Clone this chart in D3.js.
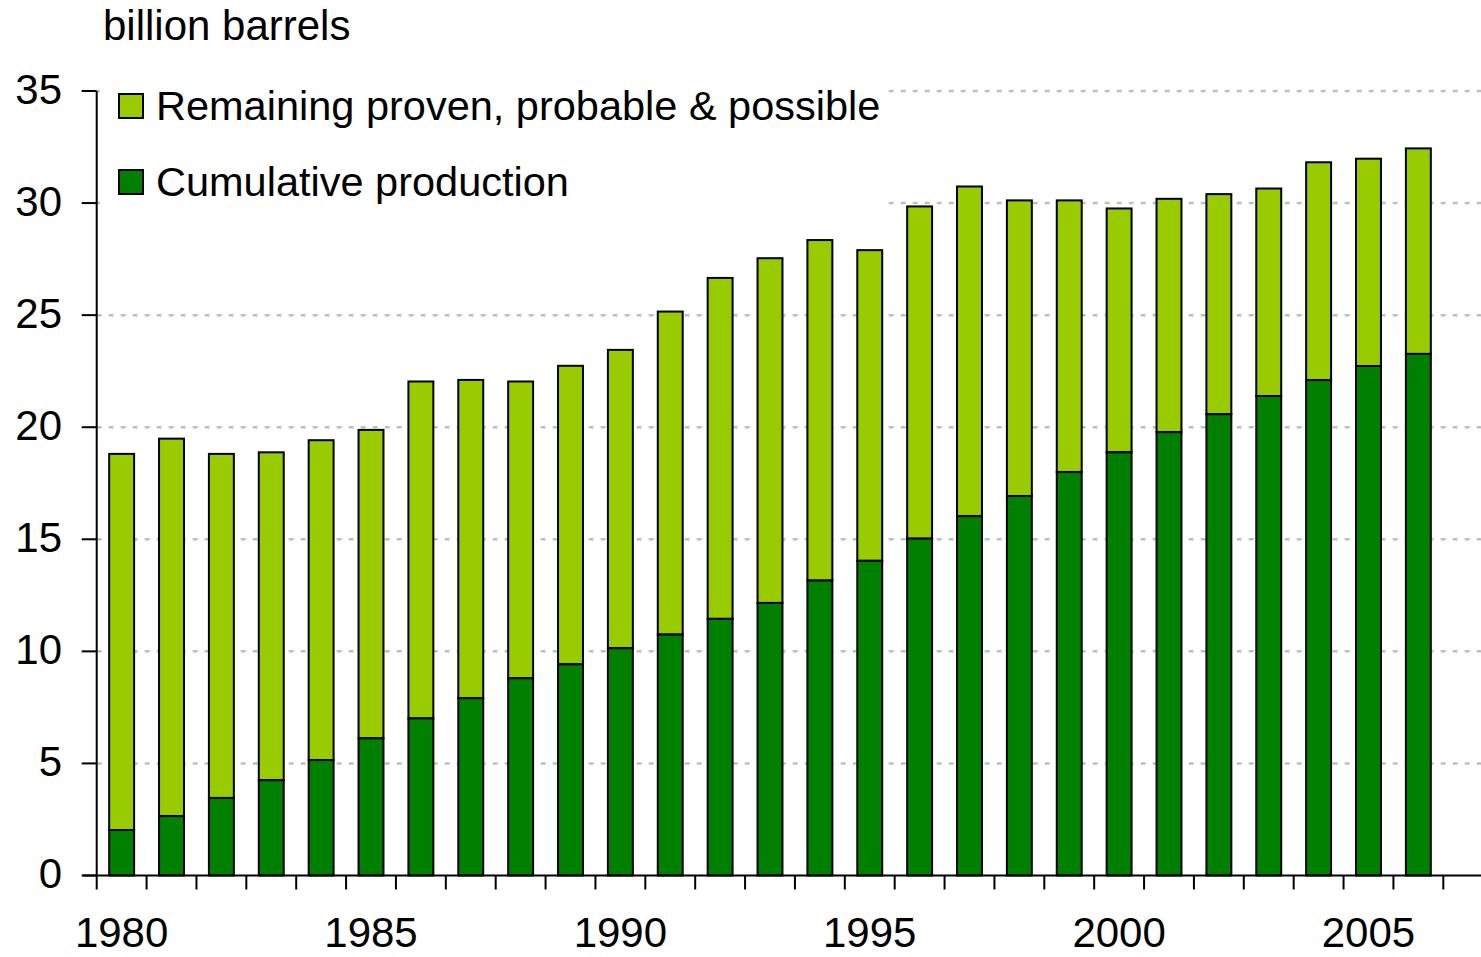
<!DOCTYPE html>
<html>
<head>
<meta charset="utf-8">
<script src="https://cdn.jsdelivr.net/npm/d3@7"></script>
<style>
  html, body { margin: 0; padding: 0; background: #fff; }
  svg { display: block; }
  text { font-family: "Liberation Sans", Arial, Helvetica, sans-serif; fill: #000; }
</style>
</head>
<body>
<svg id="chart" width="1481" height="957"></svg>
<script>
const years = [1980,1981,1982,1983,1984,1985,1986,1987,1988,1989,1990,1991,1992,1993,1994,1995,1996,1997,1998,1999,2000,2001,2002,2003,2004,2005,2006];
const cumulative = [2.03,2.65,3.46,4.25,5.15,6.12,7.01,7.91,8.80,9.42,10.14,10.75,11.45,12.16,13.16,14.04,15.03,16.03,16.93,18.0,18.88,19.78,20.58,21.39,22.10,22.73,23.27];
const total = [18.81,19.49,18.81,18.88,19.42,19.88,22.04,22.11,22.04,22.74,23.45,25.16,26.66,27.54,28.35,27.90,29.85,30.74,30.12,30.12,29.76,30.19,30.40,30.65,31.82,31.98,32.44];
const yTicks = [0,5,10,15,20,25,30,35];
const xLabels = [1980,1985,1990,1995,2000,2005];
const seriesNames = ["Remaining proven, probable & possible", "Cumulative production"];
const seriesColors = ["#99CC00", "#008000"];
const unitLabel = "billion barrels";

(function () {
const svg = d3.select("#chart");
const W = 1481;
const pLeft = 96.7, pRight = 1443.3, pTop = 91, pBottom = 875.5;
const fs = 42, fsLeg = 41.5;

const x = d3.scaleBand().domain(years).range([pLeft, pRight]).paddingInner(0.5).paddingOuter(0.25);
const y = d3.scaleLinear().domain([0, 35]).range([pBottom, pTop]);
const step = x.step();

// gridlines
svg.append("g").selectAll("line").data(yTicks.filter(v => v > 0)).join("line")
  .attr("x1", pLeft).attr("x2", W)
  .attr("y1", d => y(d)).attr("y2", d => y(d))
  .attr("stroke", "#c0c0c0").attr("stroke-width", 2.5)
  .attr("stroke-dasharray", "5,7");

// legend background
svg.append("rect").attr("x", 100).attr("y", 80).attr("width", 788).attr("height", 135).attr("fill", "#fff");

// bars
const bars = svg.append("g");
years.forEach((yr, i) => {
  bars.append("rect")
    .attr("x", x(yr)).attr("width", x.bandwidth())
    .attr("y", y(total[i])).attr("height", y(cumulative[i]) - y(total[i]))
    .attr("fill", seriesColors[0]).attr("stroke", "#000").attr("stroke-width", 2);
  bars.append("rect")
    .attr("x", x(yr)).attr("width", x.bandwidth())
    .attr("y", y(cumulative[i])).attr("height", y(0) - y(cumulative[i]))
    .attr("fill", seriesColors[1]).attr("stroke", "#000").attr("stroke-width", 2);
});

// y axis
svg.append("line").attr("x1", pLeft).attr("x2", pLeft).attr("y1", pTop).attr("y2", pBottom)
  .attr("stroke", "#000").attr("stroke-width", 2);
svg.append("g").selectAll("line").data(yTicks).join("line")
  .attr("x1", pLeft - 15).attr("x2", pLeft)
  .attr("y1", d => y(d)).attr("y2", d => y(d))
  .attr("stroke", "#000").attr("stroke-width", 2);
svg.append("g").selectAll("text").data(yTicks).join("text")
  .attr("x", 62).attr("y", d => y(d)).attr("dy", "0.3em")
  .attr("text-anchor", "end").attr("font-size", fs).text(d => d);

// x axis
svg.append("line").attr("x1", pLeft - 14).attr("x2", W).attr("y1", pBottom).attr("y2", pBottom)
  .attr("stroke", "#000").attr("stroke-width", 2);
const boundaries = years.map(yr => x(yr) - step * 0.25).concat([x(years[years.length-1]) + step * 0.75]);
svg.append("g").selectAll("line").data(boundaries).join("line")
  .attr("x1", d => d).attr("x2", d => d)
  .attr("y1", pBottom).attr("y2", pBottom + 14)
  .attr("stroke", "#000").attr("stroke-width", 2);
svg.append("g").selectAll("text").data(xLabels).join("text")
  .attr("x", d => x(d) + x.bandwidth() / 2).attr("y", 947)
  .attr("text-anchor", "middle").attr("font-size", fs).text(d => d);

// unit label
svg.append("text").attr("x", 103).attr("y", 40).attr("font-size", fs).text(unitLabel);

// legend
const lg = svg.append("g");
[[0, 94], [1, 170]].forEach(([i, yy]) => {
  lg.append("rect").attr("x", 119).attr("y", yy).attr("width", 24).attr("height", 24)
    .attr("fill", seriesColors[i]).attr("stroke", "#000").attr("stroke-width", 2);
  lg.append("text").attr("x", 156).attr("y", yy + 26).attr("font-size", fsLeg).text(seriesNames[i]);
});
})();
</script>
</body>
</html>
